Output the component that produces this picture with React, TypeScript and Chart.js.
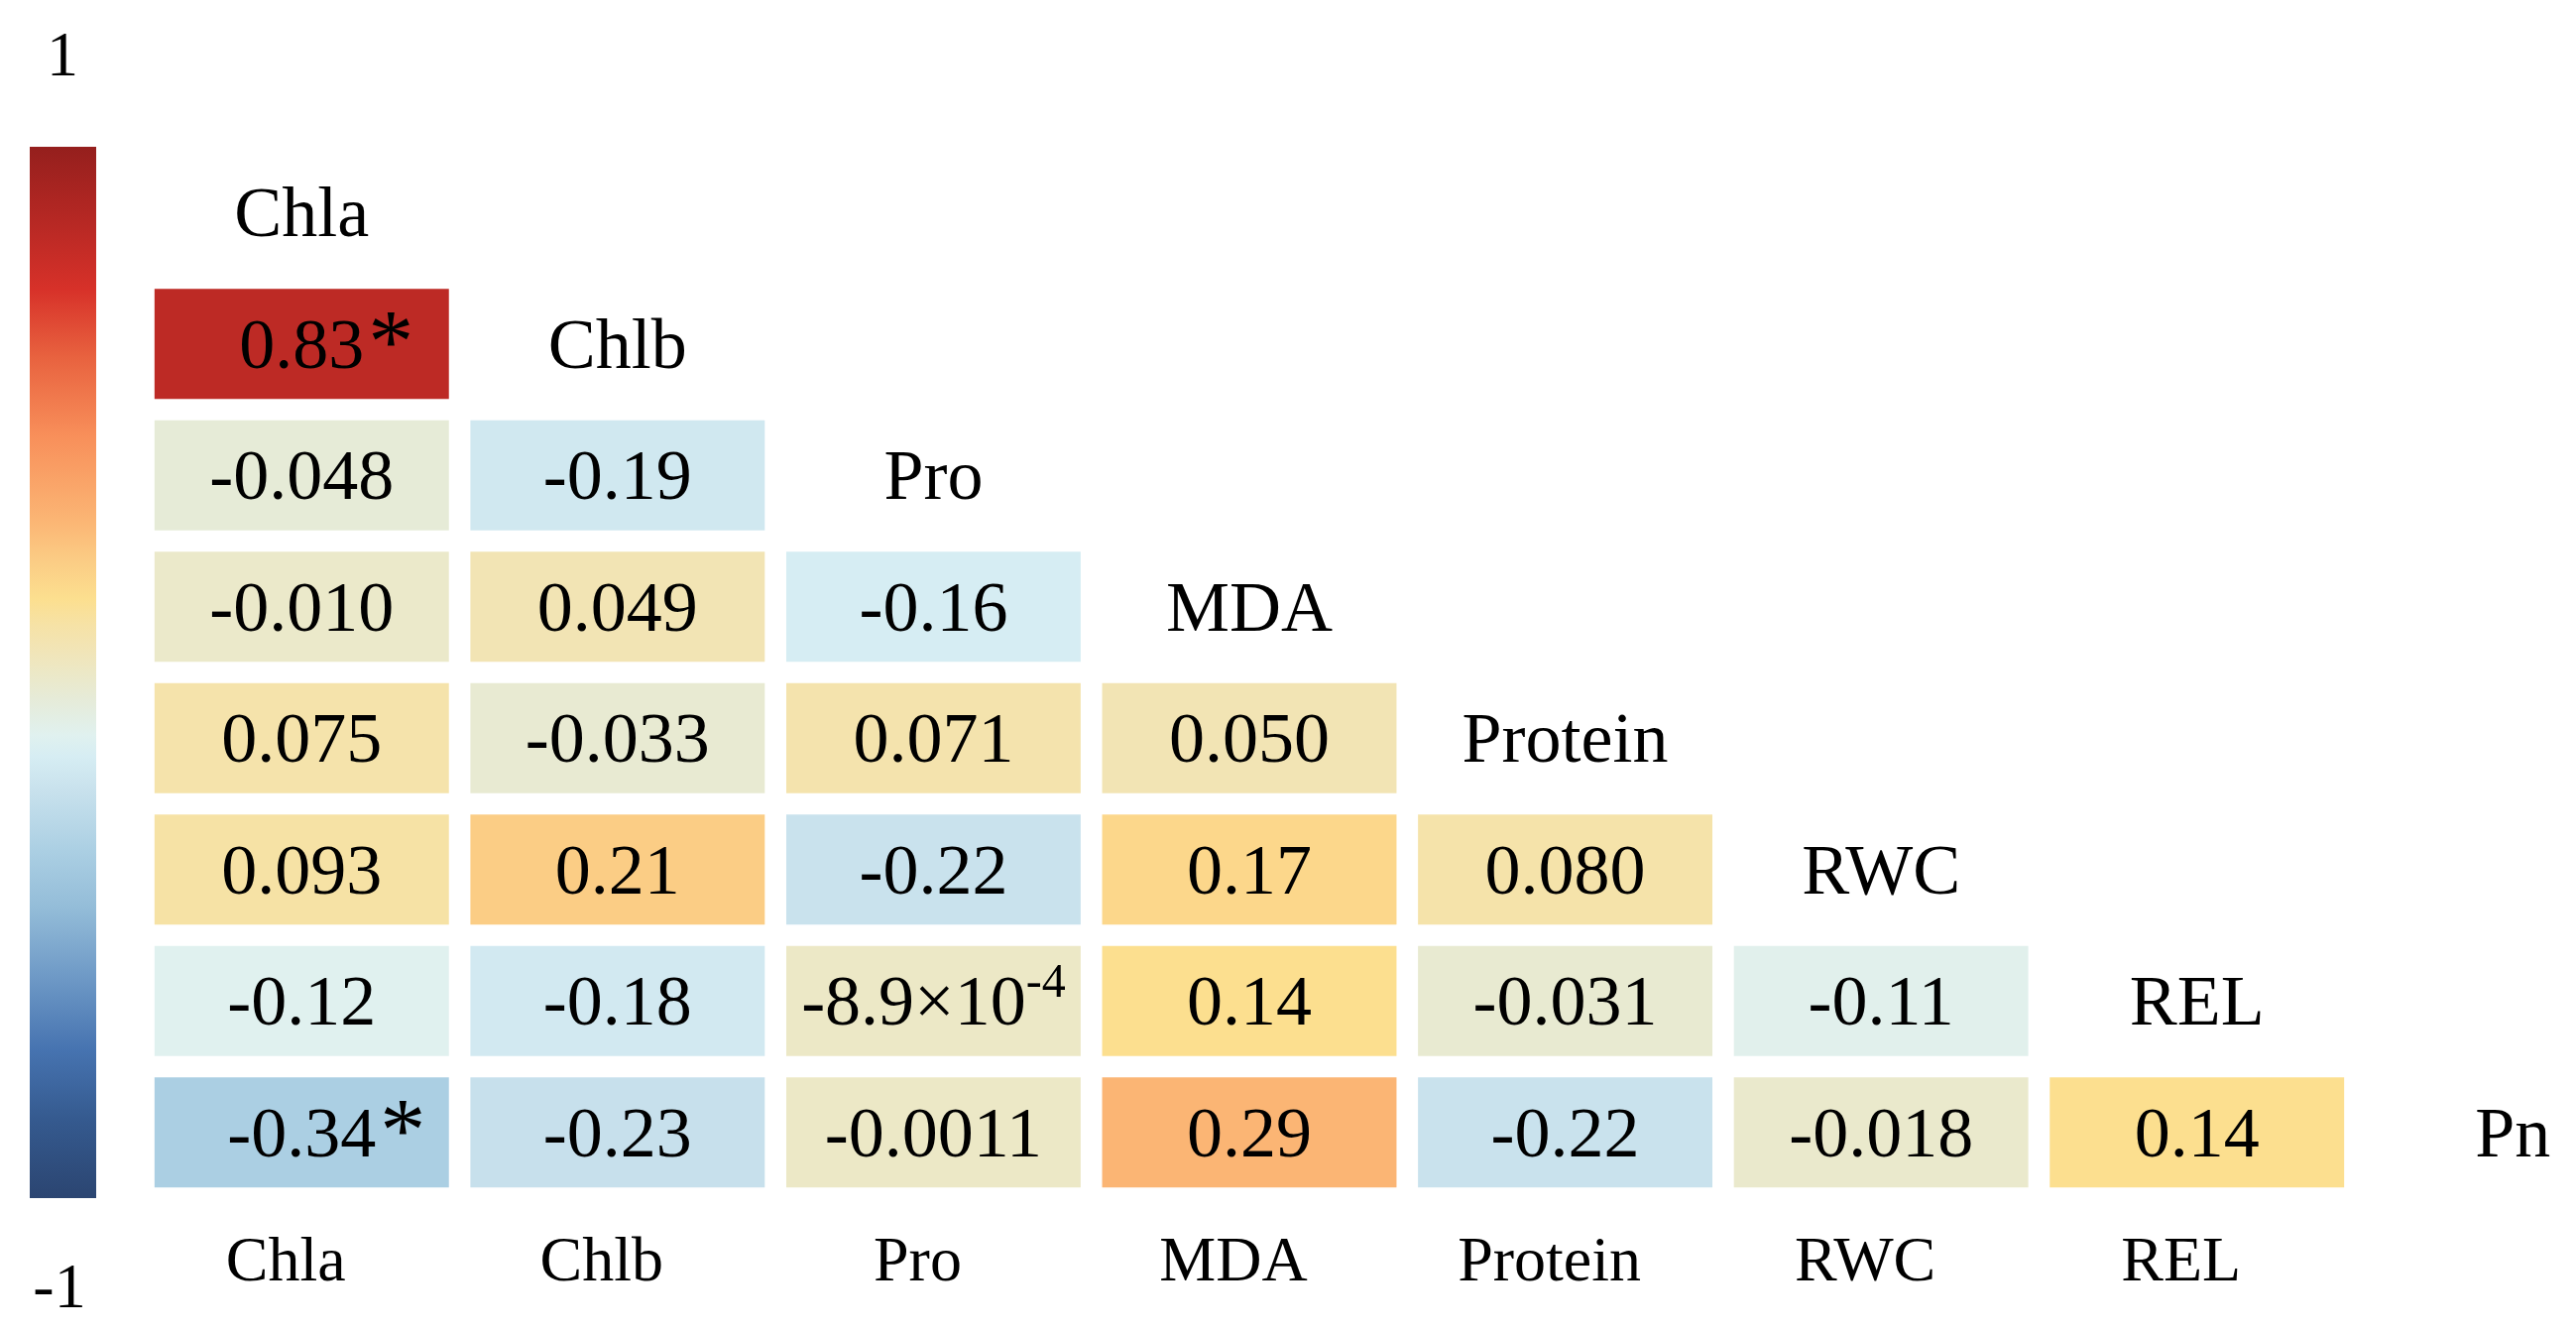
import React, { useEffect, useRef } from "react";
import { Chart, registerables } from "chart.js";

Chart.register(...registerables);

// ---- data ----
const variables = ["Chla", "Chlb", "Pro", "MDA", "Protein", "RWC", "REL", "Pn"];
// lower-triangle correlations: row variable vs. earlier columns
const rowChla: number[] = [];
const rowChlb = [0.83];
const rowPro = [-0.048, -0.19];
const rowMDA = [-0.01, 0.049, -0.16];
const rowProtein = [0.075, -0.033, 0.071, 0.05];
const rowRWC = [0.093, 0.21, -0.22, 0.17, 0.08];
const rowREL = [-0.12, -0.18, -0.00089, 0.14, -0.031, -0.11];
const rowPn = [-0.34, -0.23, -0.0011, 0.29, -0.22, -0.018, 0.14];
const correlationRows = [rowChla, rowChlb, rowPro, rowMDA, rowProtein, rowRWC, rowREL, rowPn];
// significant cells [row, column]
const significantCells = [
  [1, 0],
  [7, 0],
];
const colorbarTickLabels = ["1", "-1"];

// ---- style ----
const FONT = "'Liberation Serif', 'Times New Roman', serif";
const colorStops: [number, string][] = [
  [-1.0, "#2b4571"],
  [-0.85, "#355a8f"],
  [-0.72, "#4673b0"],
  [-0.58, "#6e99c6"],
  [-0.45, "#93bcd8"],
  [-0.34, "#abcfe3"],
  [-0.22, "#c9e2ed"],
  [-0.16, "#d6edf3"],
  [-0.12, "#e0f1ef"],
  [-0.05, "#e6ebd8"],
  [0.0, "#ece8c6"],
  [0.05, "#f2e4b4"],
  [0.09, "#f6e2a6"],
  [0.14, "#fcdf8f"],
  [0.21, "#fbcd85"],
  [0.29, "#fbb574"],
  [0.45, "#f88f5a"],
  [0.6, "#e8623f"],
  [0.73, "#d73129"],
  [0.83, "#bd2a25"],
  [1.0, "#951f1d"],
];

function hexToRgb(h: string) {
  const n = parseInt(h.slice(1), 16);
  return [(n >> 16) & 255, (n >> 8) & 255, n & 255];
}

function colorFor(v: number) {
  if (v <= colorStops[0][0]) return colorStops[0][1];
  for (let i = 1; i < colorStops.length; i++) {
    const [v1, c1] = colorStops[i];
    const [v0, c0] = colorStops[i - 1];
    if (v <= v1) {
      const t = (v - v0) / (v1 - v0);
      const a = hexToRgb(c0);
      const b = hexToRgb(c1);
      const r = a.map((x, k) => Math.round(x + (b[k] - x) * t));
      return `rgb(${r[0]},${r[1]},${r[2]})`;
    }
  }
  return colorStops[colorStops.length - 1][1];
}

const CELL_HALF_WIDTH = 0.466;

function isSignificant(r: number, c: number) {
  return significantCells.some(([a, b]) => a === r && b === c);
}

const textPlugin = {
  id: "corrText",
  afterDatasetsDraw(chart: any) {
    const ctx: CanvasRenderingContext2D = chart.ctx;
    const xs = chart.scales.x;
    const ys = chart.scales.y;
    const area = chart.chartArea;
    ctx.save();

    // colour bar
    const grad = ctx.createLinearGradient(0, area.top, 0, area.bottom);
    colorStops.forEach(([v, c]) => grad.addColorStop((1 - v) / 2, c));
    ctx.fillStyle = grad;
    ctx.fillRect(30, area.top, 67, area.bottom - area.top);

    ctx.fillStyle = "#000";
    ctx.textBaseline = "alphabetic";
    ctx.textAlign = "center";
    ctx.font = `64px ${FONT}`;
    ctx.fillText(colorbarTickLabels[0], 63, area.top - 72);
    ctx.fillText(colorbarTickLabels[1], 60, area.bottom + 110);

    // diagonal labels
    ctx.font = `72px ${FONT}`;
    variables.forEach((name, k) => {
      ctx.fillText(name, xs.getPixelForValue(k), ys.getPixelForValue(k) + 24);
    });

    // bottom labels
    ctx.font = `64px ${FONT}`;
    variables.slice(0, variables.length - 1).forEach((name, j) => {
      ctx.fillText(name, xs.getPixelForValue(j) - 16, ys.getPixelForValue(variables.length) + 17);
    });

    // cell values
    chart.data.datasets.forEach((ds: any, j: number) => {
      const meta = chart.getDatasetMeta(j);
      meta.data.forEach((el: any, k: number) => {
        const v = correlationRows[k][j];
        if (v === undefined) return;
        const p = el.getCenterPoint();
        const baseY = p.y + 24;
        ctx.textAlign = "left";
        if (Math.abs(v) < 0.001 && v !== 0) {
          const exp = Math.floor(Math.log10(Math.abs(v)));
          const mant = (v / Math.pow(10, exp)).toPrecision(2);
          const main = `${mant}\u00d710`;
          const sup = `${exp}`;
          ctx.font = `72px ${FONT}`;
          const wm = ctx.measureText(main).width;
          ctx.font = `48px ${FONT}`;
          const wsup = ctx.measureText(sup).width;
          const x0 = p.x - (wm + wsup) / 2;
          ctx.font = `72px ${FONT}`;
          ctx.fillText(main, x0, baseY);
          ctx.font = `48px ${FONT}`;
          ctx.fillText(sup, x0 + wm, baseY - 28);
        } else {
          const s = v.toPrecision(2);
          ctx.font = `72px ${FONT}`;
          const w = ctx.measureText(s).width;
          const x0 = p.x - w / 2;
          ctx.fillText(s, x0, baseY);
          if (isSignificant(k, j)) {
            ctx.font = `92px ${FONT}`;
            ctx.fillText("*", x0 + w + 4, baseY + 4);
          }
        }
      });
    });
    ctx.restore();
  },
};

export default function App() {
  const ref = useRef<HTMLCanvasElement | null>(null);
  useEffect(() => {
    if (!ref.current) return;
    const nCols = variables.length - 1;
    const datasets = Array.from({ length: nCols }, (_, j) => ({
      label: variables[j],
      data: variables.map((_, k) => {
        const v = correlationRows[k][j];
        return v === undefined ? null : [j - CELL_HALF_WIDTH, j + CELL_HALF_WIDTH];
      }),
      backgroundColor: variables.map((_, k) => {
        const v = correlationRows[k][j];
        return v === undefined ? "rgba(0,0,0,0)" : colorFor(v);
      }),
      borderWidth: 0,
      grouped: false,
      categoryPercentage: 0.838,
      barPercentage: 1,
    }));
    const chart = new Chart(ref.current, {
      type: "bar",
      data: { labels: variables, datasets: datasets as any },
      options: {
        indexAxis: "y",
        animation: false,
        responsive: false,
        devicePixelRatio: 1,
        layout: { padding: { left: 145, right: 0, top: 148, bottom: 136 } },
        plugins: { legend: { display: false }, tooltip: { enabled: false } },
        scales: {
          x: { type: "linear", min: -0.5, max: 7.2, display: false },
          y: { type: "category", display: false },
        },
      },
      plugins: [textPlugin],
    });
    return () => chart.destroy();
  }, []);
  return (
    <div style={{ position: "absolute", left: 0, top: 0, width: 2598, height: 1344, background: "#fff" }}>
      <canvas ref={ref} width={2598} height={1344} style={{ display: "block" }} />
    </div>
  );
}
